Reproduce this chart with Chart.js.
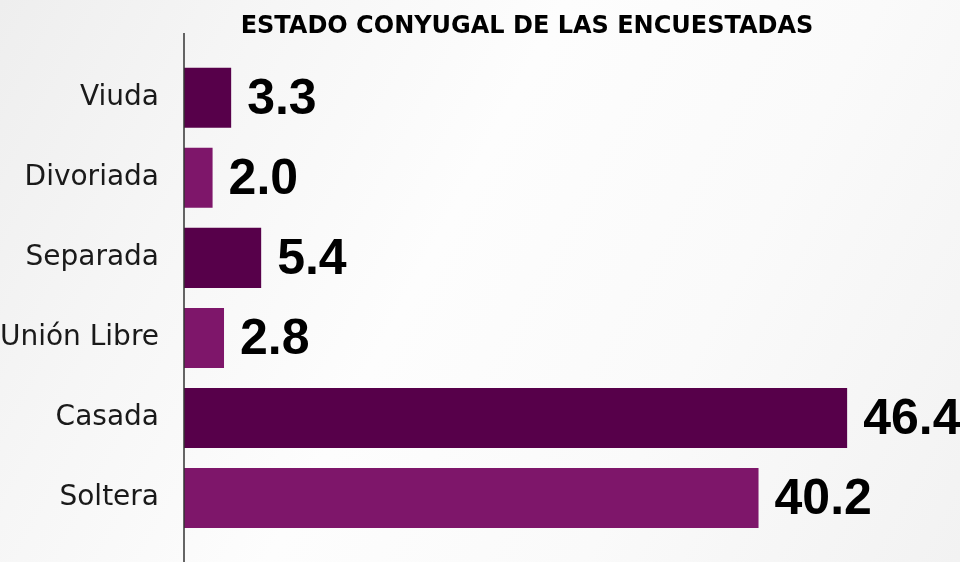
<!DOCTYPE html>
<html>
<head>
<meta charset="utf-8">
<script src="https://cdn.jsdelivr.net/npm/chart.js@4/dist/chart.umd.min.js"></script>
<style>
  html, body { margin: 0; padding: 0; }
  body {
    width: 960px; height: 562px; overflow: hidden;
    background: linear-gradient(118deg, #eeeeee 0%, #f6f6f6 22%, #fdfdfd 45%, #fafafa 70%, #f2f2f2 100%);
  }
  #wrap { position: relative; width: 960px; height: 562px; }
</style>
</head>
<body>
<div id="wrap"><canvas id="estado"></canvas></div>
<script>
var categorias = ['Viuda', 'Divoriada', 'Separada', 'Unión Libre', 'Casada', 'Soltera'];
var porcentajes = [3.3, 2.0, 5.4, 2.8, 46.4, 40.2];
var colores = ['#57004a', '#7e166a', '#57004a', '#7e166a', '#57004a', '#7e166a'];
var titulo = 'ESTADO CONYUGAL DE LAS ENCUESTADAS';

// eje vertical y etiquetas de valor
var etiquetas = {
	id: 'etiquetas',
	afterDatasetsDraw: function(chart) {
		var ctx = chart.ctx;
		var area = chart.chartArea;
		ctx.save();
		ctx.strokeStyle = '#333333';
		ctx.lineWidth = 1.5;
		ctx.beginPath();
		ctx.moveTo(area.left, 33);
		ctx.lineTo(area.left, chart.height);
		ctx.stroke();

		ctx.fillStyle = '#000000';
		ctx.font = 'bold 50px "Liberation Sans", Arial, sans-serif';
		ctx.textAlign = 'left';
		ctx.textBaseline = 'middle';
		chart.getDatasetMeta(0).data.forEach(function(bar, i) {
			ctx.fillText(porcentajes[i].toFixed(1), bar.x + 16, bar.y + 2);
		});
		ctx.restore();
	}
};

var config = {
	type: 'bar',
	data: {
		labels: categorias,
		datasets: [{
			data: porcentajes,
			backgroundColor: colores,
			borderWidth: 0,
			barPercentage: 0.75,
			categoryPercentage: 1.0
		}]
	},
	options: {
		indexAxis: 'y',
		responsive: false,
		animation: false,
		layout: {
			padding: { left: 0, right: 90, top: 0, bottom: 24 }
		},
		plugins: {
			legend: { display: false },
			tooltip: { enabled: false },
			title: {
				display: true,
				text: titulo,
				fullSize: false,
				color: '#000000',
				font: { family: '"DejaVu Sans", sans-serif', size: 24, weight: 'bold' },
				padding: { top: 12, bottom: 17 }
			}
		},
		scales: {
			x: {
				display: false,
				min: 0,
				max: 48
			},
			y: {
				grid: { display: false },
				border: { display: false },
				ticks: {
					color: '#1a1a1a',
					padding: 17,
					font: { family: '"DejaVu Sans", sans-serif', size: 28 }
				},
				afterFit: function(scale) {
					scale.width = 184;
					scale.paddingTop = 0;
					scale.paddingBottom = 0;
				}
			}
		}
	},
	plugins: [etiquetas]
};

var canvas = document.getElementById('estado');
canvas.width = 960;
canvas.height = 562;
window.miGrafica = new Chart(canvas.getContext('2d'), config);
</script>
</body>
</html>
